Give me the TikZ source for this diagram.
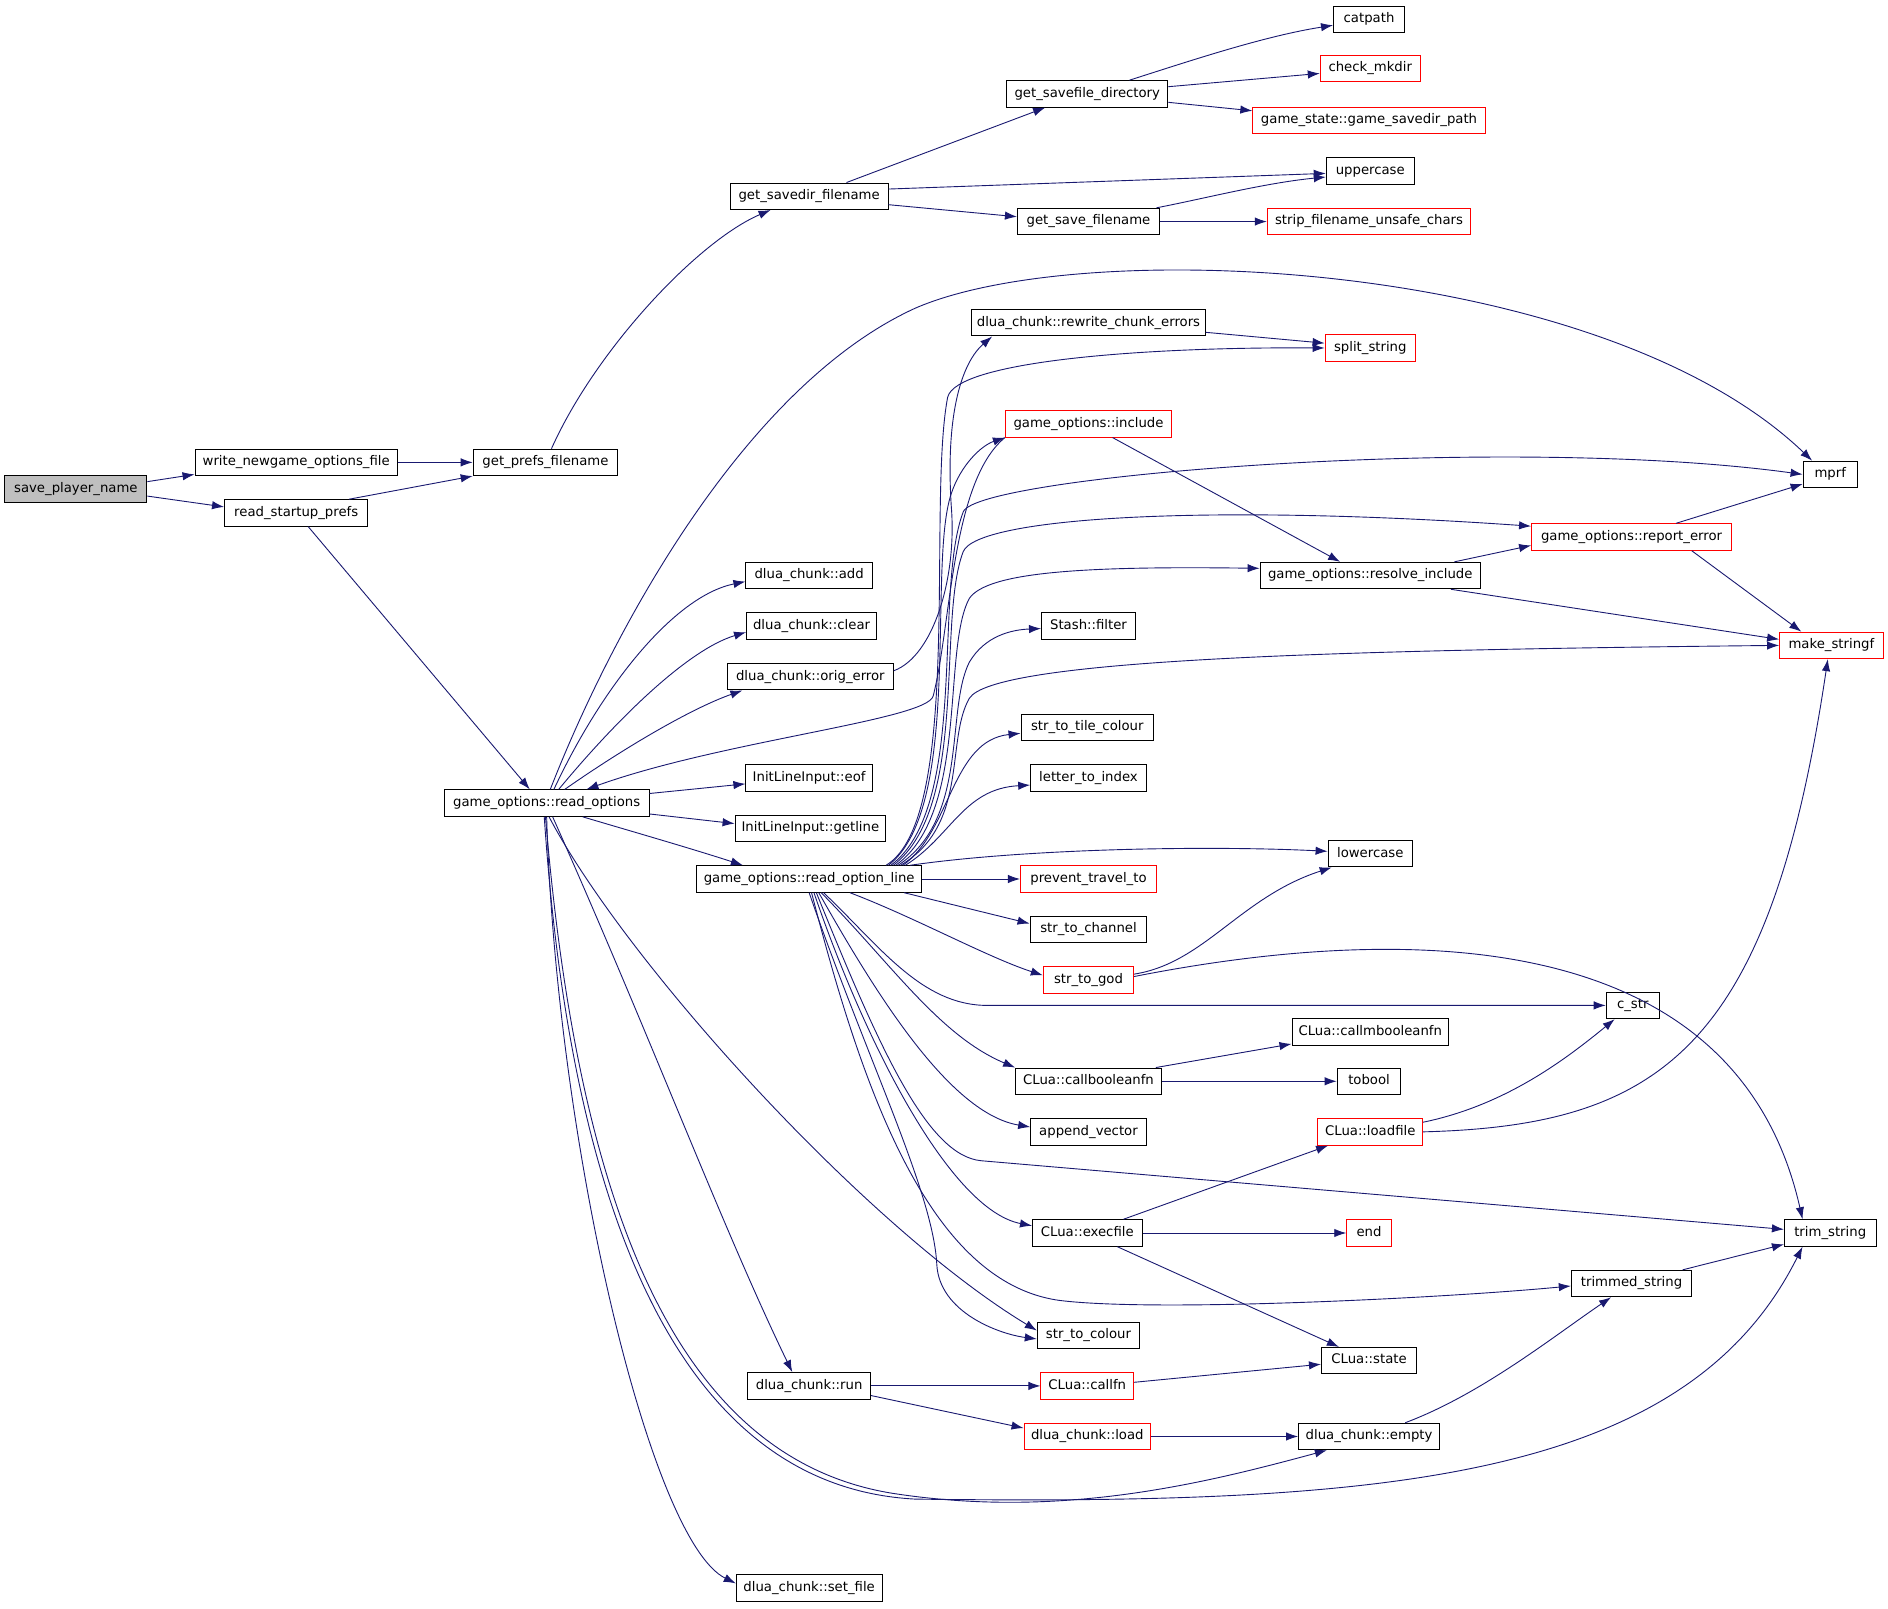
\documentclass[tikz,border=0pt]{standalone}
\usepackage{fontspec}
\newfontfamily\dejavu{DejaVu Sans}
\usetikzlibrary{arrows.meta}
\definecolor{edgeblue}{HTML}{191970}
\begin{document}
\begin{tikzpicture}[x=1pt,y=-1pt,
    fn/.style={draw,line width=0.8pt,minimum width=#1,minimum height=22,inner sep=0pt,
      font=\dejavu\fontsize{11}{13}\selectfont,text height=8pt,text depth=2.5pt},
    bad/.style={fn=#1,draw=red},
    root/.style={fn=#1,fill=gray!50},
    call/.style={draw=edgeblue,line width=0.75pt,-{Latex[length=10pt,width=7pt]}}]
  \useasboundingbox (0,0) rectangle (1568,1335.5);
  \node[root=118] (spn) at (63,406) {save\_player\_name};
  \node[fn=168] (wnof) at (246,384) {write\_newgame\_options\_file};
  \node[fn=119] (rsp) at (246,426) {read\_startup\_prefs};
  \node[fn=120] (gpf) at (453,384) {get\_prefs\_filename};
  \node[fn=131] (gsdf) at (672,163) {get\_savedir\_filename};
  \node[fn=134] (gsfd) at (903,78) {get\_savefile\_directory};
  \node[fn=59] (catp) at (1137,16) {catpath};
  \node[bad=83] (mkd) at (1138,57) {check\_mkdir};
  \node[bad=193] (gsp) at (1137,100) {game\_state::game\_savedir\_path};
  \node[fn=73] (upc) at (1138,142) {uppercase};
  \node[fn=118] (gsf) at (904,184) {get\_save\_filename};
  \node[bad=169] (sfuc) at (1137,184) {strip\_filename\_unsafe\_chars};
  \node[fn=194] (rce) at (904,268) {dlua\_chunk::rewrite\_chunk\_errors};
  \node[bad=75] (spl) at (1138,289) {split\_string};
  \node[bad=138] (inc) at (904,352) {game\_options::include};
  \node[fn=45] (mprf) at (1520,394) {mprf};
  \node[bad=166] (rerr) at (1355,446) {game\_options::report\_error};
  \node[fn=183] (rinc) at (1138,478) {game\_options::resolve\_include};
  \node[bad=86] (mks) at (1521,536) {make\_stringf};
  \node[fn=105] (add) at (672,478) {dlua\_chunk::add};
  \node[fn=108] (clr) at (674,520) {dlua\_chunk::clear};
  \node[fn=138] (oerr) at (673,562) {dlua\_chunk::orig\_error};
  \node[fn=78] (filt) at (904,520) {Stash::filter};
  \node[fn=110] (sttc) at (903,604) {str\_to\_tile\_colour};
  \node[fn=96] (lti) at (904,646) {letter\_to\_index};
  \node[fn=105] (eof) at (672,646) {InitLineInput::eof};
  \node[fn=125] (gln) at (673,688) {InitLineInput::getline};
  \node[fn=170] (ro) at (454,667) {game\_options::read\_options};
  \node[fn=187] (rol) at (672,730) {game\_options::read\_option\_line};
  \node[fn=70] (lwc) at (1138,709) {lowercase};
  \node[bad=113] (ptt) at (904,730) {prevent\_travel\_to};
  \node[fn=97] (stch) at (904,772) {str\_to\_channel};
  \node[bad=75] (stg) at (904,814) {str\_to\_god};
  \node[fn=44] (cstr) at (1356,835) {c\_str};
  \node[fn=130] (cmb) at (1138,857) {CLua::callmbooleanfn};
  \node[fn=121] (cbf) at (904,898) {CLua::callbooleanfn};
  \node[fn=53] (tbl) at (1137,898) {tobool};
  \node[fn=96] (apv) at (904,940) {append\_vector};
  \node[bad=87] (ldf) at (1138,940) {CLua::loadfile};
  \node[fn=76] (trs) at (1520,1024) {trim\_string};
  \node[fn=91] (exf) at (903,1024) {CLua::execfile};
  \node[bad=37] (endn) at (1137,1024) {end};
  \node[fn=100] (tms) at (1355,1066) {trimmed\_string};
  \node[fn=85] (stc) at (904,1109) {str\_to\_colour};
  \node[fn=79] (cst) at (1137,1130) {CLua::state};
  \node[fn=102] (run) at (672,1151) {dlua\_chunk::run};
  \node[bad=77] (cfn) at (903,1151) {CLua::callfn};
  \node[bad=105] (load) at (903,1193) {dlua\_chunk::load};
  \node[fn=117] (emp) at (1137,1193) {dlua\_chunk::empty};
  \node[fn=121] (setf) at (672,1319) {dlua\_chunk::set\_file};

  \draw[call] ([yshift=6pt]spn.east) -- ([yshift=-10pt]wnof.west);
  \draw[call] ([yshift=-6pt]spn.east) -- ([yshift=5pt]rsp.west);
  \draw[call] (wnof.east) -- (gpf.west);
  \draw[call] ([xshift=-16pt]rsp.north east) -- (gpf.south west);
  \draw[call] ([xshift=5pt]gpf.north) .. controls (495,290) and (580,200) .. ([xshift=-32pt]gsdf.south);
  \draw[call] ([xshift=31pt]gsdf.north) -- ([xshift=-35pt]gsfd.south);
  \draw[call] ([yshift=6pt]gsdf.east) -- ([yshift=-2pt]upc.west);
  \draw[call] ([yshift=-7pt]gsdf.east) -- ([yshift=4pt]gsf.west);
  \draw[call] ([xshift=35pt]gsfd.north) .. controls (990,50) and (1050,30) .. ([yshift=-5pt]catp.west);
  \draw[call] ([yshift=6pt]gsfd.east) -- ([yshift=-4pt]mkd.west);
  \draw[call] ([yshift=-7pt]gsfd.east) -- ([yshift=8pt]gsp.west);
  \draw[call] ([xshift=-3pt]gsf.north east) .. controls (1000,165) and (1050,152) .. ([yshift=-5pt]upc.west);
  \draw[call] (gsf.east) -- (sfuc.west);
  \draw[call] ([xshift=10pt]rsp.south) -- ([xshift=-14pt]ro.north);

  \draw[call] ([xshift=3pt]ro.north) .. controls (510,520) and (620,320) .. (760,256)
    .. controls (900,195) and (1330,215) .. ([xshift=-15pt]mprf.north);
  \draw[call] ([xshift=6pt]ro.north) .. controls (500,570) and (560,495) .. ([yshift=-5pt]add.west);
  \draw[call] ([xshift=10pt]ro.north) .. controls (510,600) and (570,540) .. ([yshift=-5pt]clr.west);
  \draw[call] ([xshift=15pt]ro.north) .. controls (520,620) and (575,588) .. ([xshift=13pt]oerr.south west);
  \draw[call] ([yshift=8pt]ro.east) -- ([yshift=-5pt]eof.west);
  \draw[call] ([yshift=-9pt]ro.east) -- ([yshift=4pt]gln.west);
  \draw[call] ([xshift=30pt]ro.south) .. controls (530,692) and (575,705) .. ([xshift=-55pt]rol.north);
  \draw[call] ([xshift=2pt]ro.south) .. controls (520,800) and (720,1020) .. ([yshift=4pt]stc.west);
  \draw[call] ([xshift=5pt]ro.south) .. controls (540,860) and (600,1020) .. ([xshift=-14pt]run.north);
  \draw[call] (ro.south) .. controls (462,950) and (540,1280) .. ([yshift=4pt]setf.west);
  \draw[call] ([xshift=-2pt]ro.south) .. controls (475,1020) and (570,1235) .. (760,1245)
    .. controls (1150,1250) and (1400,1230) .. ([xshift=-23pt]trs.south);
  \draw[call] ([xshift=-1pt]ro.south) .. controls (480,1000) and (560,1210) .. (740,1240)
    .. controls (880,1262) and (1000,1232) .. ([xshift=-35pt]emp.south);
  \draw[call] (inc.south west) .. controls (790,400) and (790,520) .. (775,578)
    .. controls (770,598) and (600,615) .. ([xshift=33pt]ro.north);
  \draw[call] ([yshift=5pt]oerr.east) .. controls (775,545) and (795,480) .. (790,420)
    .. controls (785,340) and (800,300) .. ([xshift=-80pt]rce.south);

  \draw[call] ([xshift=-30pt]rol.north east) .. controls (800,680) and (770,420) .. (787,330)
    .. controls (794,300) and (950,288) .. (spl.west);
  \draw[call] ([xshift=-28pt]rol.north east) .. controls (800,670) and (770,470) .. (790,410)
    .. controls (798,386) and (815,370) .. (inc.south west);
  \draw[call] ([xshift=-26pt]rol.north east) .. controls (805,670) and (775,490) .. (800,425)
    .. controls (812,395) and (1250,360) .. (mprf.west);
  \draw[call] ([xshift=-24pt]rol.north east) .. controls (805,670) and (778,515) .. (800,458)
    .. controls (812,430) and (1000,418) .. ([yshift=9pt]rerr.west);
  \draw[call] ([xshift=-22pt]rol.north east) .. controls (805,675) and (782,540) .. (805,497)
    .. controls (820,475) and (900,470) .. ([yshift=6pt]rinc.west);
  \draw[call] ([xshift=-20pt]rol.north east) .. controls (805,680) and (785,590) .. (805,550)
    .. controls (818,528) and (840,523) .. ([yshift=-2pt]filt.west);
  \draw[call] ([xshift=-18pt]rol.north east) .. controls (805,685) and (785,615) .. (805,580)
    .. controls (825,548) and (1100,540) .. (mks.west);
  \draw[call] ([xshift=-16pt]rol.north east) .. controls (790,690) and (790,615) .. ([yshift=-5pt]sttc.west);
  \draw[call] ([xshift=-14pt]rol.north east) .. controls (790,695) and (800,655) .. ([yshift=-6pt]lti.west);
  \draw[call] ([xshift=-10pt]rol.north east) .. controls (850,705) and (1000,702) .. ([yshift=2pt]lwc.west);
  \draw[call] (rol.east) -- (ptt.west);
  \draw[call] ([xshift=-15pt]rol.south east) -- ([yshift=5pt]stch.west);
  \draw[call] ([xshift=-60pt]rol.south east) .. controls (760,762) and (820,795) .. ([yshift=4pt]stg.west);
  \draw[call] ([xshift=12pt]rol.south) .. controls (730,785) and (765,835) .. (820,835) -- (cstr.west);
  \draw[call] ([xshift=10pt]rol.south) .. controls (740,800) and (780,860) .. (cbf.north west);
  \draw[call] ([xshift=8pt]rol.south) .. controls (730,830) and (790,925) .. ([yshift=4pt]apv.west);
  \draw[call] ([xshift=6pt]rol.south) .. controls (730,870) and (770,960) .. (815,964) -- ([yshift=3pt]trs.west);
  \draw[call] ([xshift=4pt]rol.south) .. controls (720,870) and (790,1005) .. ([yshift=6pt]exf.west);
  \draw[call] ([xshift=2pt]rol.south) .. controls (715,900) and (770,1065) .. (880,1080)
    .. controls (960,1090) and (1200,1078) .. ([yshift=-2pt]tms.west);
  \draw[call] (rol.south) .. controls (720,880) and (775,990) .. (778,1050)
    .. controls (780,1090) and (830,1108) .. ([yshift=-3pt]stc.west);

  \draw[call] ([yshift=5pt]stg.east) .. controls (1000,800) and (1030,745) .. ([xshift=-32pt]lwc.south);
  \draw[call] ([yshift=3pt]stg.east) .. controls (1150,770) and (1440,760) .. ([xshift=-23pt]trs.north);
  \draw[call] ([xshift=-5pt]cbf.north east) -- ([yshift=-10pt]cmb.west);
  \draw[call] (cbf.east) -- (tbl.west);
  \draw[call] ([yshift=8pt]ldf.east) .. controls (1250,918) and (1300,880) .. ([xshift=-15pt]cstr.south);
  \draw[call] (ldf.east) .. controls (1380,935) and (1470,870) .. ([xshift=-3pt]mks.south);
  \draw[call] ([xshift=30pt]exf.north) -- ([xshift=-35pt]ldf.south);
  \draw[call] (exf.east) -- (endn.west);
  \draw[call] ([xshift=25pt]exf.south) -- ([xshift=-25pt]cst.north);
  \draw[call] ([xshift=-8pt]tms.north east) -- ([yshift=2pt]trs.south west);
  \draw[call] (run.east) -- (cfn.west);
  \draw[call] ([yshift=-8pt]run.east) -- ([yshift=7pt]load.west);
  \draw[call] ([yshift=3pt]cfn.east) -- ([yshift=-3pt]cst.west);
  \draw[call] (load.east) -- (emp.west);
  \draw[call] ([xshift=30pt]emp.north) .. controls (1230,1158) and (1290,1110) .. ([xshift=-17pt]tms.south);
  \draw[call] ([xshift=20pt]inc.south) -- ([xshift=-25pt]rinc.north);
  \draw[call] ([xshift=-22pt]rinc.north east) -- ([yshift=-7pt]rerr.west);
  \draw[call] ([xshift=-25pt]rinc.south east) -- ([yshift=5pt]mks.west);
  \draw[call] ([xshift=37pt]rerr.north) -- ([yshift=-8pt]mprf.west);
  \draw[call] ([xshift=50pt]rerr.south) -- ([xshift=-25pt]mks.north);
  \draw[call] ([yshift=-8pt]rce.east) -- ([yshift=4pt]spl.west);
\end{tikzpicture}
\end{document}
